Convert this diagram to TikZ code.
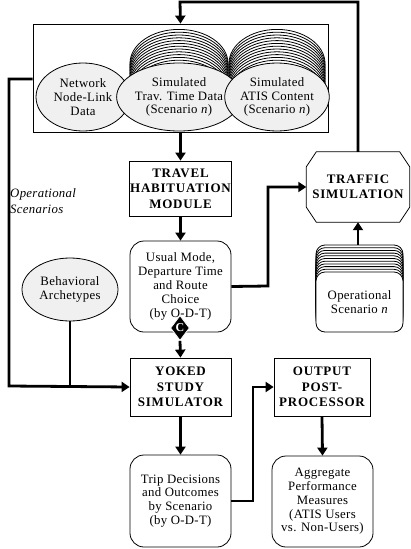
\documentclass[tikz,border=0pt]{standalone}
\usepackage{fontspec}
\setmainfont{Liberation Serif}
\newfontfamily\boldsp[LetterSpace=6]{Liberation Serif}
\newfontfamily\regsp[LetterSpace=2.5]{Liberation Serif}
\usetikzlibrary{arrows.meta,shapes.geometric,calc}
\definecolor{ellfill}{RGB}{240,240,240}
\tikzset{
  thinline/.style={line width=0.8pt},
  conn/.style={line width=2.8pt},
  arr/.style={conn,-{Triangle[length=8pt,width=10pt]}},
  txt/.style={font=\fontsize{12.8}{13.8}\selectfont\regsp},
  ell/.style={ellipse,draw,thinline,fill=ellfill,inner sep=0pt,align=center,txt},
  ellw/.style={ellipse,draw,thinline,fill=white,inner sep=0pt},
  boldtxt/.style={font=\fontsize{13}{15.5}\selectfont\boldsp\bfseries},
  boxb/.style={rectangle,draw,thinline,fill=white,inner sep=0pt,align=center,boldtxt},
  rbox/.style={rectangle,rounded corners=14pt,draw,thinline,fill=white,inner sep=0pt,align=center,txt},
}
\begin{document}
\begin{tikzpicture}[x=1pt,y=-1pt]
\useasboundingbox (0,0) rectangle (411,549);
% outer data box
\node[draw,thinline,minimum width=295pt,minimum height=108pt,inner sep=0pt] (outer) at (180.5,78) {};
\node[ell,minimum width=94pt,minimum height=68pt] (net) at (83,97) {Network\\Node-Link\\Data};
\foreach \i in {12,11,...,1}{
  \node[ellw,minimum width=98pt,minimum height=68pt] at (179,97-2.8*\i) {};
  \node[ellw,minimum width=96pt,minimum height=68pt] at (277,97-2.8*\i) {};
}
\node[ell,minimum width=98pt,minimum height=68pt] (trav) at (179,97) {Simulated\\Trav. Time Data\\(Scenario \textit{n})};
\node[ell,minimum width=96pt,minimum height=68pt] (atis) at (277,97) {Simulated\\ATIS Content\\(Scenario \textit{n})};
% travel habituation module
\node[boxb,minimum width=102pt,minimum height=55pt] (thm) at (180.5,188.5) {TRAVEL\\HABITUATION\\MODULE};
\node[rbox,minimum width=101pt,minimum height=91pt] (usual) at (180.5,286.5) {Usual Mode,\\Departure Time\\and Route\\Choice\\(by O-D-T)};
% traffic simulation octagon
\node[inner sep=0pt,minimum width=103pt,minimum height=70pt] (traffic) at (358,187) {};
\draw[thinline,fill=white] ($(traffic.north west)+(0,15)$) -- ($(traffic.north west)+(10,0)$) -- ($(traffic.north east)+(-10,0)$) -- ($(traffic.north east)+(0,15)$) -- ($(traffic.south east)+(0,-15)$) -- ($(traffic.south east)+(-10,0)$) -- ($(traffic.south west)+(10,0)$) -- ($(traffic.south west)+(0,-15)$) -- cycle;
\node[inner sep=0pt,align=center,boldtxt] (traffictext) at (traffic) {TRAFFIC\\SIMULATION};
% operational scenario stack
\foreach \i in {10,9,...,1}{
  \node[rectangle,rounded corners=9pt,draw,thinline,fill=white,minimum width=87pt,minimum height=60pt] at (359.5,302-2.7*\i) {};
}
\node[rectangle,rounded corners=9pt,draw,thinline,fill=white,minimum width=87pt,minimum height=60pt,align=center,txt] (opscen) at (359.5,302) {Operational\\Scenario \textit{n}};
\coordinate (opstop) at (358,245);
% behavioral archetypes
\node[ell,minimum width=96pt,minimum height=63pt] (behav) at (70,289.5) {Behavioral\\Archetypes};
% yoked, output
\node[boxb,minimum width=101pt,minimum height=58pt] (yoked) at (180.5,387) {YOKED\\STUDY\\SIMULATOR};
\node[boxb,minimum width=96pt,minimum height=58pt] (output) at (322,387) {OUTPUT\\POST-\\PROCESSOR};
\node[rbox,minimum width=101pt,minimum height=92pt] (trip) at (180.5,501) {Trip Decisions\\and Outcomes\\by Scenario\\(by O-D-T)};
\node[rbox,minimum width=101pt,minimum height=91pt] (agg) at (322.5,501.5) {Aggregate\\Performance\\Measures\\(ATIS Users\\vs. Non-Users)};
% C diamond
\node[diamond,fill=black,draw=white,thinline,inner sep=0pt,minimum width=19pt,minimum height=25pt,text=white,font=\fontsize{12}{12}\selectfont\bfseries] (cd) at (180,328) {C};
% label
\node[anchor=west,align=left,inner sep=0pt,font=\fontsize{12.8}{16}\selectfont\regsp\itshape] (oplabel) at (10,201) {Operational\\Scenarios};
% coordinates for connectors
\coordinate (topR) at (358,2);
\coordinate (topL) at (180,2);
\coordinate (leftA) at (9,79);
\coordinate (leftB) at (9,386);
\coordinate (behB) at (70,386);
\coordinate (uA) at (268,286);
\coordinate (uB) at (268,187);
\coordinate (tA) at (253,501);
\coordinate (tB) at (253,387);
% connectors
\draw[arr] (traffic.north) -- (topR) -- (topL) -- (outer.north);
\draw[arr] (outer.south) -- (thm.north);
\draw[arr] (thm.south) -- (usual.north);
\draw[arr] (usual.east) -- (uA) -- (uB) -- (traffic.west);
\draw[arr] (opstop) -- (traffic.south);
\draw[arr] (outer.west |- leftA) -- (leftA) -- (leftB) -- (yoked.west);
\draw[conn] (behav.south) -- (behB);
\draw[arr] (cd.south) -- (yoked.north);
\draw[arr] (yoked.south) -- (trip.north);
\draw[arr] (trip.east) -- (tA) -- (tB) -- (output.west);
\draw[arr] (output.south) -- (agg.north);
\end{tikzpicture}
\end{document}
